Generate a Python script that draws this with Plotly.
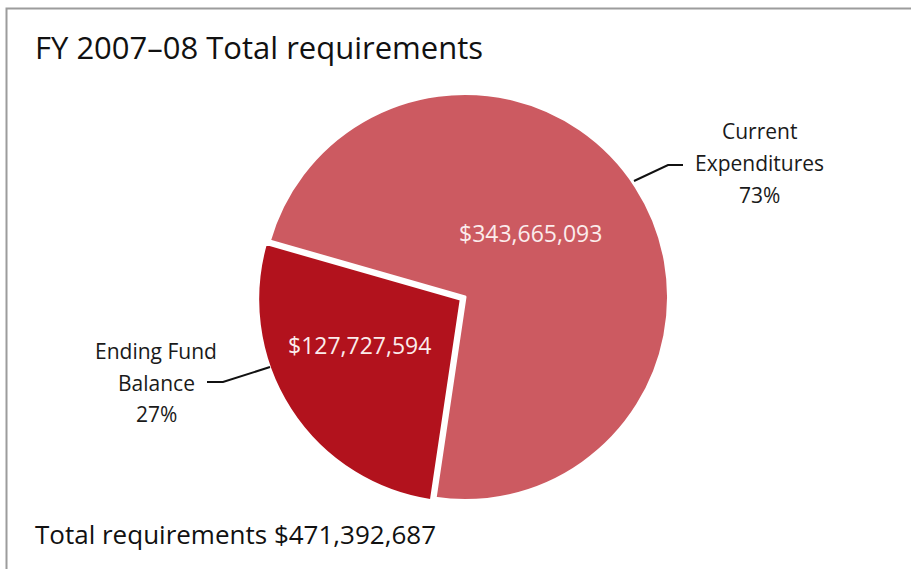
import plotly.graph_objects as go

W, H = 911, 569

# Budget breakdown
labels = ["Current Expenditures", "Ending Fund Balance"]
label_lines = [["Current", "Expenditures"], ["Ending Fund", "Balance"]]
values = [343665093, 127727594]
percent_text = ["73%", "27%"]
colors = ["#CC5A61", "#B2121D"]
pulls = [0, 0.022]
total_text = "Total requirements $471,392,687"
title_text = "FY 2007\u201308 Total requirements"

FONT = "Open Sans, Noto Sans, sans-serif"


def px(x):
    return x / W


def py(y):
    return 1 - y / H


fig = go.Figure(
    go.Pie(
        labels=labels,
        values=values,
        sort=False,
        direction="clockwise",
        rotation=-74,
        pull=pulls,
        marker=dict(colors=colors, line=dict(color="white", width=3)),
        textinfo="none",
        hoverinfo="label+value+percent",
        showlegend=False,
        domain=dict(x=[px(215), px(715)], y=[py(505), py(89)]),
    )
)

annotations = [
    dict(text=title_text, x=px(33), y=py(47), xanchor="left", yanchor="middle",
         font=dict(size=31, color="#111111", family=FONT)),
    dict(text=total_text, x=px(33), y=py(534), xanchor="left", yanchor="middle",
         font=dict(size=26, color="#111111", family=FONT)),
]

# Dollar amounts written on the slices
value_pos = [(530, 233), (359, 345)]
for v, (x, y) in zip(values, value_pos):
    annotations.append(dict(text=f"${v:,}", x=px(x), y=py(y), xanchor="center",
                            yanchor="middle",
                            font=dict(size=23, color="#FBECEC", family=FONT)))

# Slice labels, one annotation per line for the looser line spacing
label_pos = [(759, [131, 163, 195]), (156, [351, 383, 414])]
for (cx, ys), lines, pct in zip(label_pos, label_lines, percent_text):
    for txt, yy in zip(lines + [pct], ys):
        annotations.append(dict(text=txt, x=px(cx), y=py(yy), xanchor="center",
                                yanchor="middle",
                                font=dict(size=21, color="#1a1a1a", family=FONT)))
for a in annotations:
    a.update(xref="paper", yref="paper", showarrow=False)

# Leader lines from labels to slices
leaders = [
    [(634, 181), (668, 165), (683, 165)],
    [(270, 367), (223, 382), (207, 382)],
]
shapes = []
for pts in leaders:
    path = "M " + " L ".join(f"{px(x)},{py(y)}" for x, y in pts)
    shapes.append(dict(type="path", xref="paper", yref="paper", path=path,
                       line=dict(color="#111111", width=2)))

# Outer frame (continues past the right and bottom edges)
shapes.append(dict(type="rect", xref="paper", yref="paper",
                   x0=px(6.5), x1=px(930), y0=py(590), y1=py(8.5),
                   line=dict(color="#9C9C9C", width=2), fillcolor="rgba(0,0,0,0)"))

fig.update_layout(
    width=W, height=H,
    margin=dict(l=0, r=0, t=0, b=0),
    paper_bgcolor="white",
    plot_bgcolor="white",
    annotations=annotations,
    shapes=shapes,
    font=dict(family=FONT),
)

fig.write_html("out.html")
